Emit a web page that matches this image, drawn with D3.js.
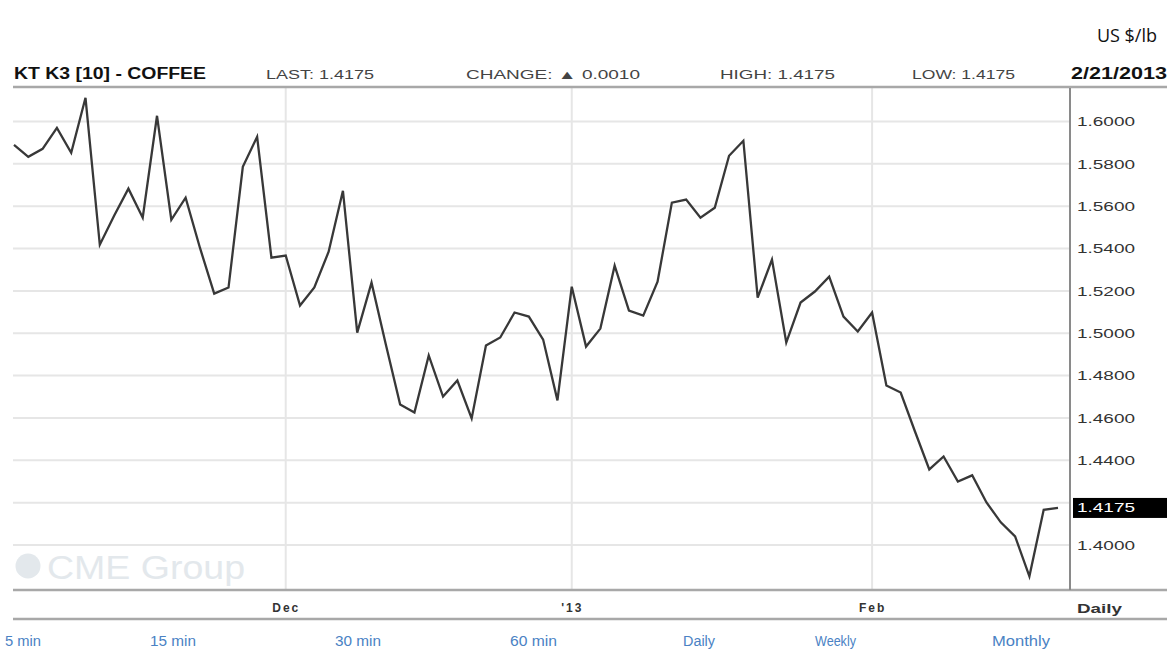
<!DOCTYPE html>
<html>
<head>
<meta charset="utf-8">
<script src="https://cdn.jsdelivr.net/npm/d3@7/dist/d3.min.js"></script>
<style>
  html, body { margin: 0; padding: 0; background: #fff; }
  svg { display: block; }
</style>
</head>
<body>
<svg id="chart" width="1167" height="654"></svg>
<script>
// ---- data ----
const dates = [
  "2012-11-05","2012-11-06","2012-11-07","2012-11-08","2012-11-09","2012-11-12","2012-11-13","2012-11-14","2012-11-15","2012-11-16",
  "2012-11-19","2012-11-20","2012-11-21","2012-11-23","2012-11-26","2012-11-27","2012-11-28","2012-11-29","2012-11-30",
  "2012-12-03","2012-12-04","2012-12-05","2012-12-06","2012-12-07","2012-12-10","2012-12-11","2012-12-12","2012-12-13","2012-12-14",
  "2012-12-17","2012-12-18","2012-12-19","2012-12-20","2012-12-21","2012-12-24","2012-12-26","2012-12-27","2012-12-28","2012-12-31",
  "2013-01-02","2013-01-03","2013-01-04","2013-01-07","2013-01-08","2013-01-09","2013-01-10","2013-01-11","2013-01-14","2013-01-15",
  "2013-01-16","2013-01-17","2013-01-18","2013-01-22","2013-01-23","2013-01-24","2013-01-25","2013-01-28","2013-01-29","2013-01-30","2013-01-31",
  "2013-02-01","2013-02-04","2013-02-05","2013-02-06","2013-02-07","2013-02-08","2013-02-11","2013-02-12","2013-02-13","2013-02-14",
  "2013-02-15","2013-02-19","2013-02-20","2013-02-21"
];
const prices = [
  1.5890,1.5833,1.5871,1.5970,1.5852,1.6112,1.5418,1.5555,1.5683,1.5546,
  1.6027,1.5536,1.5640,1.5404,1.5187,1.5216,1.5786,1.5928,1.5357,
  1.5367,1.5131,1.5216,1.5385,1.5673,1.5003,1.5239,1.4947,1.4664,1.4626,
  1.4895,1.4701,1.4777,1.4598,1.4942,1.4980,1.5098,1.5079,1.4970,1.4683,
  1.5220,1.4937,1.5022,1.5319,1.5107,1.5083,1.5244,1.5617,1.5631,1.5546,
  1.5593,1.5838,1.5909,1.5168,1.5348,1.4956,1.5145,1.5197,1.5267,1.5079,1.5008,
  1.5098,1.4753,1.4720,1.4536,1.4357,1.4418,1.4300,1.4329,1.4201,1.4107,
  1.4041,1.3852,1.4166,1.4175
];
const yTicks = [1.40,1.42,1.44,1.46,1.48,1.50,1.52,1.54,1.56,1.58,1.60];
const xTickDates = ["2012-12-03","2013-01-02","2013-02-01"];
const xTickLabels = ["Dec","'13","Feb"];
const title = "KT K3 [10] - COFFEE";
const headerItems = ["LAST: 1.4175","CHANGE: \u25B2 0.0010","HIGH: 1.4175","LOW: 1.4175"];
const lastDate = "2/21/2013";
const lastValue = 1.4175;
const unitLabel = "US $/lb";
const periodLabel = "Daily";
const links = ["5 min","15 min","30 min","60 min","Daily","Weekly","Monthly"];

// ---- layout ----
const svg = d3.select("#chart");
const W = 1167, H = 654;
const plotLeft = 13, plotRight = 1070, plotTop = 88, plotBottom = 590;
const font = "'Liberation Sans', Arial, sans-serif";

const x = d3.scalePoint().domain(dates).range([14, 1058]);
const y = d3.scaleLinear().domain([1.40, 1.60]).range([545, 121.5]);

svg.append("rect").attr("width", W).attr("height", H).attr("fill", "#fff");

// unit label
svg.append("text").attr("x", 1157).attr("y", 42).attr("text-anchor", "end")
  .attr("font-family", "'Open Sans', 'Noto Sans', sans-serif").attr("font-size", 18)
  .attr("fill", "#111").text(unitLabel);

// CME watermark
const wm = svg.append("g").attr("fill", "#e3e8ec");
wm.append("circle").attr("cx", 28).attr("cy", 566).attr("r", 12.5);
wm.append("text").attr("x", 47).attr("y", 579).attr("font-family", font)
  .attr("font-size", 34).attr("textLength", 198).attr("lengthAdjust", "spacingAndGlyphs")
  .text("CME Group");

// horizontal grid
svg.append("g").selectAll("line").data(yTicks).join("line")
  .attr("x1", plotLeft).attr("x2", plotRight)
  .attr("y1", d => y(d)).attr("y2", d => y(d))
  .attr("stroke", "#e6e6e6").attr("stroke-width", 2);

// vertical grid
svg.append("g").selectAll("line").data(xTickDates).join("line")
  .attr("x1", d => x(d)).attr("x2", d => x(d))
  .attr("y1", plotTop).attr("y2", plotBottom)
  .attr("stroke", "#e6e6e6").attr("stroke-width", 2);

// price line
const line = d3.line().x((d, i) => x(dates[i])).y(d => y(d));
svg.append("path").datum(prices).attr("d", line)
  .attr("fill", "none").attr("stroke", "#383838").attr("stroke-width", 2.3)
  .attr("stroke-linejoin", "miter");

// frame lines
svg.append("line").attr("x1", plotLeft).attr("x2", W).attr("y1", 87).attr("y2", 87)
  .attr("stroke", "#a8a8a8").attr("stroke-width", 2.5);
svg.append("line").attr("x1", plotLeft).attr("x2", W).attr("y1", plotBottom).attr("y2", plotBottom)
  .attr("stroke", "#a8a8a8").attr("stroke-width", 2.5);
svg.append("line").attr("x1", plotLeft).attr("x2", W).attr("y1", 619).attr("y2", 619)
  .attr("stroke", "#a8a8a8").attr("stroke-width", 2.5);
svg.append("line").attr("x1", plotRight).attr("x2", plotRight).attr("y1", plotTop).attr("y2", plotBottom)
  .attr("stroke", "#8a8a8a").attr("stroke-width", 2);

// right axis labels
const yAxis = d3.axisRight(y).tickValues(yTicks.filter(v => Math.abs(v - 1.42) > 1e-6))
  .tickFormat(d3.format(".4f")).tickSize(0).tickPadding(7);
const ya = svg.append("g").attr("transform", `translate(${plotRight},0)`).call(yAxis);
ya.select(".domain").remove();
ya.selectAll("text").attr("font-family", font).attr("font-size", 13).attr("fill", "#333")
  .attr("textLength", 58).attr("lengthAdjust", "spacingAndGlyphs");

// last value box
svg.append("rect").attr("x", 1073).attr("y", y(lastValue) - 10).attr("width", W - 1073).attr("height", 20)
  .attr("fill", "#000");
svg.append("text").attr("x", 1077).attr("y", y(lastValue)).attr("dy", "0.35em")
  .attr("font-family", font).attr("font-size", 13).attr("fill", "#fff")
  .attr("textLength", 58).attr("lengthAdjust", "spacingAndGlyphs").text(d3.format(".4f")(lastValue));

// bottom axis labels
const xAxis = d3.axisBottom(x).tickValues(xTickDates)
  .tickFormat((d, i) => xTickLabels[i]).tickSize(0).tickPadding(0);
const xa = svg.append("g").attr("transform", `translate(0,${603})`).call(xAxis);
xa.select(".domain").remove();
xa.selectAll("text").attr("font-family", font).attr("font-size", 12).attr("font-weight", "bold")
  .attr("fill", "#333").attr("letter-spacing", 2);
svg.append("text").attr("x", 1077).attr("y", 613).attr("font-family", font).attr("font-size", 13)
  .attr("font-weight", "bold").attr("fill", "#333")
  .attr("textLength", 45).attr("lengthAdjust", "spacingAndGlyphs").text(periodLabel);

// header
svg.append("text").attr("x", 14).attr("y", 79).attr("font-family", font).attr("font-size", 16)
  .attr("font-weight", "bold").attr("fill", "#111")
  .attr("textLength", 192).attr("lengthAdjust", "spacingAndGlyphs").text(title);
const hx = [266, 466, 720, 912], hw = [108, 174, 115, 103];
svg.append("g").selectAll("text").data(headerItems).join("text")
  .attr("x", (d, i) => hx[i]).attr("y", 79).attr("font-family", font).attr("font-size", 12.5)
  .attr("fill", "#444").attr("textLength", (d, i) => hw[i]).attr("lengthAdjust", "spacingAndGlyphs")
  .text(d => d);
svg.append("text").attr("x", 1071).attr("y", 79).attr("font-family", font).attr("font-size", 16)
  .attr("font-weight", "bold").attr("fill", "#111")
  .attr("textLength", 96).attr("lengthAdjust", "spacingAndGlyphs").text(lastDate);

// bottom links
const lx = [5, 150, 335, 510, 683, 815, 992], lw = [36, 46, 46, 47, 32, 41, 58];
svg.append("g").selectAll("text").data(links).join("text")
  .attr("x", (d, i) => lx[i]).attr("y", 646).attr("font-family", font).attr("font-size", 14)
  .attr("fill", "#4a82c4").attr("textLength", (d, i) => lw[i]).attr("lengthAdjust", "spacingAndGlyphs")
  .text(d => d);
</script>
</body>
</html>
